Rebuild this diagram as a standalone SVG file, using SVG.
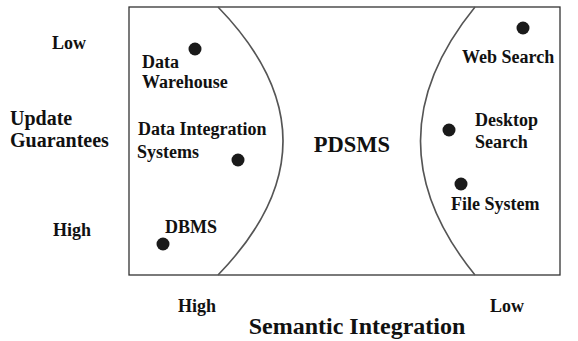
<svg xmlns="http://www.w3.org/2000/svg" width="578" height="341" viewBox="0 0 578 341">
<style>
text{font-family:"Liberation Serif","Times New Roman",serif;font-weight:bold;fill:#111}
.s{font-size:18px}
.m{font-size:20px}
.dot{fill:#1a1a1a}
.curve{fill:none;stroke:#555;stroke-width:1.6}
</style>
<rect x="129" y="7" width="431" height="268" fill="#fff" stroke="#333" stroke-width="1.3"/>
<g id="connectors">
<path class="curve" d="M218,7 Q348,141 218,275"/>
<path class="curve" d="M475,7 Q366,141 475,275"/>
</g>
<g id="data-warehouse"><circle class="dot" cx="195" cy="49" r="6.5"/><text class="s" x="142" y="68">Data</text><text class="s" x="142" y="88">Warehouse</text></g>
<g id="data-integration"><circle class="dot" cx="238" cy="160" r="6.5"/><text class="s" x="138" y="135">Data Integration</text><text class="s" x="137" y="158">Systems</text></g>
<g id="dbms"><circle class="dot" cx="163" cy="244" r="6.5"/><text class="s" x="165" y="233">DBMS</text></g>
<g id="web-search"><circle class="dot" cx="523" cy="28" r="6.5"/><text class="s" x="462" y="63">Web Search</text></g>
<g id="desktop-search"><circle class="dot" cx="449" cy="130" r="6.5"/><text class="s" x="475" y="126">Desktop</text><text class="s" x="475" y="148">Search</text></g>
<g id="file-system"><circle class="dot" cx="461" cy="184" r="6.5"/><text class="s" x="451" y="210">File System</text></g>
<g id="pdsms"><text x="352" y="152" text-anchor="middle" style="font-size:22.5px">PDSMS</text></g>
<g id="axis-y">
<text class="s" x="52" y="49">Low</text>
<text class="m" x="10" y="125">Update</text>
<text class="m" x="10" y="147">Guarantees</text>
<text class="s" x="53" y="236">High</text>
</g>
<g id="axis-x">
<text class="s" x="178" y="312">High</text>
<text class="s" x="490" y="312">Low</text>
<text x="357" y="334" text-anchor="middle" style="font-size:24px">Semantic Integration</text>
</g>
</svg>
